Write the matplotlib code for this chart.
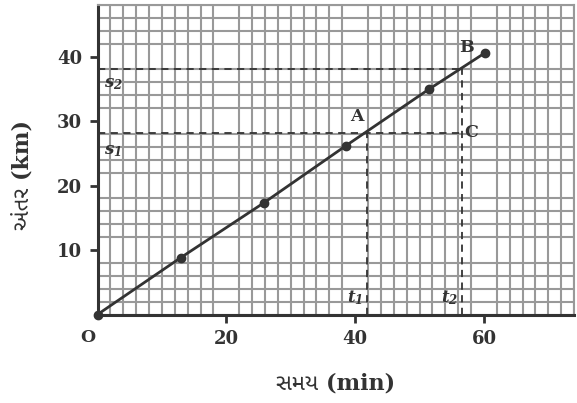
import matplotlib.pyplot as plt
import numpy as np

# Datos (tiempo en min, distancia en km)
tiempo = [0, 12.9, 25.8, 38.6, 51.4, 60.2]
distancia = [0, 8.8, 17.3, 26.2, 34.9, 40.6]

x_ticks = [20, 40, 60]
y_ticks = [10, 20, 30, 40]

t1, s1 = 41.8, 28.2
t2, s2 = 56.6, 38.0

plt.rcParams['mathtext.fontset'] = 'custom'
plt.rcParams['mathtext.it'] = 'DejaVu Serif:italic:bold'
plt.rcParams['mathtext.rm'] = 'DejaVu Serif:italic:bold'

gu_fonts = ['DejaVu Serif', 'Noto Sans Gujarati', 'Noto Serif Gujarati', 'Lohit Gujarati']

fig = plt.figure(figsize=(5.77, 4.03), dpi=100)
ax = fig.add_axes([0.169, 0.2196, 0.826, 0.768])

ax.set_xlim(0, 74)
ax.set_ylim(0, 48)

# papel cuadriculado
ax.set_xticks(np.arange(0, 75, 2), minor=True)
ax.set_yticks(np.arange(0, 49, 2), minor=True)
ax.grid(which='minor', color='#999999', lw=1.5)
ax.tick_params(which='minor', length=0)

ax.set_xticks(x_ticks)
ax.set_yticks(y_ticks)
ax.tick_params(which='major', length=6, width=2, color='#333333', pad=5)
for lab in ax.get_xticklabels() + ax.get_yticklabels():
    lab.set_fontfamily('DejaVu Serif')
    lab.set_fontweight('bold')
    lab.set_fontsize(13)
    lab.set_color('#333333')

for s in ['top', 'right']:
    ax.spines[s].set_color('#999999')
    ax.spines[s].set_linewidth(1.5)
for s in ['left', 'bottom']:
    ax.spines[s].set_color('#333333')
    ax.spines[s].set_linewidth(2.2)

# linea recta y puntos
ax.plot(tiempo, distancia, color='#333333', lw=2, marker='o', ms=6, clip_on=False, zorder=5)

# lineas punteadas
dash = dict(color='#333333', lw=1.3, ls=(0, (4, 3)), zorder=4)
ax.plot([0, t2], [s1, s1], **dash)
ax.plot([t1, t1], [0, s1], **dash)
ax.plot([0, t2], [s2, s2], **dash)
ax.plot([t2, t2], [0, s2], **dash)

lbl = dict(fontfamily='DejaVu Serif', fontweight='bold', color='#333333', fontsize=12.5)
ax.text(t1 - 1.6, s1 + 1.2, 'A', ha='center', va='bottom', **lbl)
ax.text(t2 + 0.4, s1, 'C', ha='left', va='center', **lbl)
ax.text(57.3, 41.4, 'B', ha='center', va='center', **lbl)
ax.text(-1.5, -2.3, 'O', ha='center', va='top', clip_on=False, **lbl)

ital = dict(color='#333333', fontsize=12)
ax.text(1, 25.5, r'$s_1$', ha='left', va='center', **ital)
ax.text(1, 35.9, r'$s_2$', ha='left', va='center', **ital)
ax.text(t1 - 0.6, 2.6, r'$t_1$', ha='right', va='center', **ital)
ax.text(t2 - 0.6, 2.6, r'$t_2$', ha='right', va='center', **ital)

ax.set_xlabel('સમય (min)', family=gu_fonts, fontweight='bold', fontsize=16,
              color='#333333', labelpad=18)
ax.set_ylabel('અંતર (km)', family=gu_fonts, fontweight='bold', fontsize=16,
              color='#333333', labelpad=16)
ax.yaxis.set_label_coords(-0.135, 0.45)

fig.savefig('out.png', dpi=100)
